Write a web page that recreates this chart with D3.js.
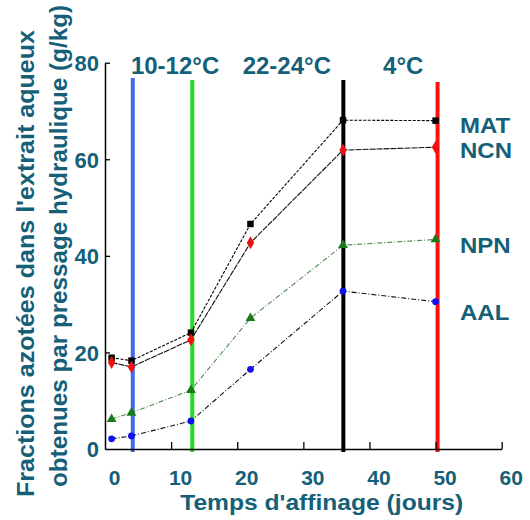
<!DOCTYPE html>
<html>
<head>
<meta charset="utf-8">
<script src="https://cdn.jsdelivr.net/npm/d3@7"></script>
<style>
  html, body { margin: 0; padding: 0; background: #fff; }
  svg text { font-family: "Liberation Sans", Arial, sans-serif; font-weight: bold; fill: #155f78; }
</style>
</head>
<body>
<svg id="chart" width="530" height="520"></svg>
<script>
// ---- data ----
const days = [1, 4, 13, 22, 36, 50];
const seriesNames = ["MAT", "NCN", "NPN", "AAL"];
const MAT = [18.9, 18.3, 24.1, 46.6, 68.1, 68.0];
const NCN = [17.9, 17.0, 22.6, 42.7, 61.9, 62.5];
const NPN = [6.2, 7.5, 12.2, 27.1, 42.2, 43.4];
const AAL = [2.1, 2.7, 5.8, 16.5, 32.7, 30.5];
const xTicks = [0, 10, 20, 30, 40, 50, 60];
const yTicks = [0, 20, 40, 60, 80];
const stageDays = [4.2, 13.2, 36.05, 50.3];
const stageLabels = ["10-12°C", "22-24°C", "4°C"];
const stageLabelDays = [10.6, 27.5, 45.1];
const xTitle = "Temps d'affinage (jours)";
const yTitle1 = "Fractions azotées dans l'extrait aqueux";
const yTitle2 = "obtenues par pressage hydraulique (g/kg)";

// ---- layout ----
const svg = d3.select("#chart");
const x = d3.scaleLinear().domain([0, 60]).range([105, 501.7]);
const y = d3.scaleLinear().domain([0, 80]).range([449, 62.7]);
const teal = "#155f78";

// stage vertical lines
const stageColors = ["#4169e8", "#22dd22", "#000000", "#ff1010"];
const stageTops = [78, 80, 80, 82];
svg.append("g").selectAll("line").data(stageDays).join("line")
  .attr("x1", d => x(d)).attr("x2", d => x(d))
  .attr("y1", (d, i) => stageTops[i]).attr("y2", y(0) + 3)
  .attr("stroke", (d, i) => stageColors[i]).attr("stroke-width", 4);

// axes
const xAxis = d3.axisBottom(x).tickValues(xTicks).tickSizeInner(-7).tickSizeOuter(0);
const gx = svg.append("g").attr("transform", `translate(0,${y(0)})`).call(xAxis);
gx.select(".domain").attr("stroke", "#000").attr("stroke-width", 1.5);
gx.selectAll(".tick line").attr("stroke", "#000").attr("stroke-width", 1.3);
gx.selectAll(".tick text").attr("y", 36).attr("dy", 0).attr("dx", 9)
  .style("font-size", "21px").attr("fill", teal)
  .style("font-family", '"Liberation Sans", Arial, sans-serif').style("font-weight", "bold");
gx.selectAll(".tick").filter(d => d === 0).select("line").remove();

const yAxis = d3.axisLeft(y).tickValues(yTicks).tickSizeInner(-5).tickSizeOuter(0);
const gy = svg.append("g").attr("transform", `translate(${x(0)},0)`).call(yAxis);
gy.select(".domain").attr("stroke", "#000").attr("stroke-width", 1.5);
gy.selectAll(".tick line").attr("stroke", "#000").attr("stroke-width", 1.3);
gy.selectAll(".tick text").attr("x", -6).attr("dy", "0.36em")
  .style("font-size", "22px").attr("fill", teal)
  .style("font-family", '"Liberation Sans", Arial, sans-serif').style("font-weight", "bold");
gy.selectAll(".tick").filter(d => d === 0).select("line").remove();

// series lines
const seriesData = [MAT, NCN, NPN, AAL];
const lineColors = ["#000", "#111", "#4f8a4f", "#111"];
const dashes = ["3,1.5", "6,1", "5,2,1,2", "5,2,1,2"];
const line = d3.line().x((d, i) => x(days[i])).y(d => y(d));
svg.append("g").selectAll("path").data(seriesData).join("path")
  .attr("d", d => line(d)).attr("fill", "none")
  .attr("stroke", (d, i) => lineColors[i]).attr("stroke-width", 1.1)
  .attr("stroke-dasharray", (d, i) => dashes[i]);

// markers
const markerColors = ["#000", "#ee1111", "#1a7a1a", "#1010ee"];
const symbols = [d3.symbolSquare, d3.symbolDiamond, d3.symbolTriangle, d3.symbolCircle];
const sizes = [42, 48, 42, 36];
seriesData.forEach((vals, si) => {
  svg.append("g").selectAll("path").data(vals).join("path")
    .attr("transform", (d, i) => `translate(${x(days[i])},${y(d)})`)
    .attr("d", d3.symbol().type(symbols[si]).size(sizes[si]))
    .attr("fill", markerColors[si]);
});

// stage labels
svg.append("g").selectAll("text").data(stageLabels).join("text")
  .attr("x", (d, i) => x(stageLabelDays[i])).attr("y", 74)
  .attr("text-anchor", "middle").style("font-size", "24px").text(d => d);

// series labels (slightly stretched glyphs so they keep the reference width)
const labelBaselines = [133, 158, 253, 320];
svg.append("g").selectAll("text").data(seriesNames).join("text")
  .attr("x", 460).attr("y", (d, i) => labelBaselines[i])
  .style("font-size", "22px").text(d => d)
  .each(function () {
    const w = this.getComputedTextLength();
    d3.select(this).attr("textLength", w * 24 / 22).attr("lengthAdjust", "spacingAndGlyphs");
  });

// axis titles
svg.append("text").attr("x", 321.7).attr("y", 509.5).attr("text-anchor", "middle")
  .style("font-size", "22px").attr("textLength", 283).attr("lengthAdjust", "spacingAndGlyphs")
  .text(xTitle);
svg.append("text").attr("transform", "translate(34,263.5) rotate(-90)").attr("text-anchor", "middle")
  .style("font-size", "24px").attr("textLength", 467).attr("lengthAdjust", "spacingAndGlyphs")
  .text(yTitle1);
svg.append("text").attr("transform", "translate(67,246) rotate(-90)").attr("text-anchor", "middle")
  .style("font-size", "24px").attr("textLength", 482).attr("lengthAdjust", "spacingAndGlyphs")
  .text(yTitle2);
</script>
</body>
</html>
